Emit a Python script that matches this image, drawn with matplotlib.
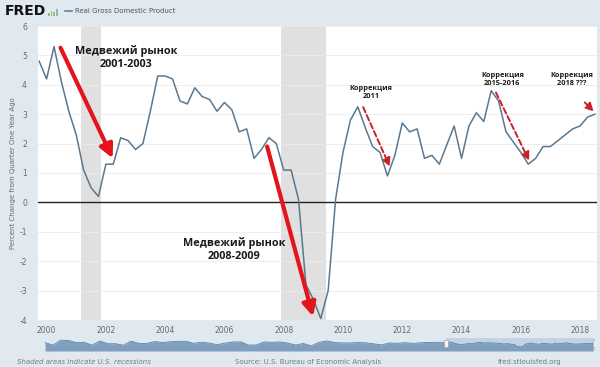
import matplotlib
matplotlib.use("Agg")
import matplotlib.pyplot as plt
from matplotlib.lines import Line2D
from matplotlib.patches import Rectangle
import numpy as np
import pandas as pd

# Real GDP, percent change from quarter one year ago, 1999Q4 .. 2018Q3
start_quarter = "1999Q4"
gdp_yoy = [
    4.8, 4.2, 5.3, 4.1, 3.1, 2.3, 1.1, 0.5, 0.2, 1.3,
    1.3, 2.2, 2.1, 1.8, 2.0, 3.1, 4.3, 4.3, 4.2, 3.45,
    3.35, 3.9, 3.6, 3.5, 3.1, 3.4, 3.15, 2.4, 2.5, 1.5,
    1.8, 2.2, 2.0, 1.1, 1.1, 0.1, -2.8, -3.3, -3.95, -3.0,
    0.1, 1.7, 2.8, 3.25, 2.55, 1.9, 1.7, 0.9, 1.6, 2.7,
    2.4, 2.5, 1.5, 1.6, 1.3, 1.95, 2.6, 1.5, 2.6, 3.05,
    2.75, 3.8, 3.45, 2.4, 2.05, 1.7, 1.3, 1.5, 1.9, 1.9,
    2.1, 2.3, 2.5, 2.6, 2.9, 3.0,
]

# NBER recessions (decimal years)
recession_start = [2001.17, 2007.92]
recession_end = [2001.83, 2009.42]

# long history for the navigator strip (annual, 1948-1999)
nav_years = list(range(1948, 2000))
nav_values = [
    4.1, -0.6, 8.7, 8.0, 4.1, 4.7, -0.6, 7.1, 2.1, 2.1,
    -0.7, 6.9, 2.6, 2.6, 6.1, 4.4, 5.8, 6.5, 6.6, 2.7,
    4.9, 3.1, 0.2, 3.3, 5.3, 5.6, -0.5, -0.2, 5.4, 4.6,
    5.5, 3.2, -0.3, 2.5, -1.8, 4.6, 7.2, 4.2, 3.5, 3.5,
    4.2, 3.7, 1.9, -0.1, 3.5, 2.8, 4.0, 2.7, 3.8, 4.4,
    4.5, 4.8,
]

yticks = list(range(-4, 7))
xtick_years = list(range(2000, 2019, 2))

bg = "#e1e9f0"
line_col = "#5a7890"
text_col = "#5f6b75"

plt.rcParams["axes.unicode_minus"] = False

quarters = pd.period_range(start_quarter, periods=len(gdp_yoy), freq="Q")
x = np.array([q.year + (q.quarter - 1) / 4 for q in quarters])
y = np.array(gdp_yoy)

fig = plt.figure(figsize=(6, 3.67), dpi=100, facecolor=bg)
ax = fig.add_axes([38 / 600, 1 - 320 / 367, 559 / 600, 294 / 367])
ax.set_facecolor("white")

for s, e in zip(recession_start, recession_end):
    ax.axvspan(s, e, color="#e0e0e0", lw=0, zorder=0)
for t in yticks:
    ax.axhline(t, color="#ebebeb", lw=0.6, zorder=0.5)
ax.axhline(0, color="#222222", lw=1.0, zorder=1)
ax.plot(x, y, color=line_col, lw=1.1, zorder=3)

ax.set_xlim(1999.71, 2018.57)
ax.set_ylim(-4, 6)
ax.set_yticks(yticks)
ax.set_xticks(xtick_years)
ax.set_xticklabels([str(v) for v in xtick_years])
ax.tick_params(length=0, labelsize=5.5, labelcolor=text_col)
ax.tick_params(axis="y", pad=8)
ax.tick_params(axis="x", pad=4)
for sp in ax.spines.values():
    sp.set_visible(False)

fig.text(0.021, 1 - 173 / 367, "Percent Change from Quarter One Year Ago", rotation=90,
         ha="center", va="center", fontsize=5, color=text_col)

# annotations
big_font = dict(family=["Open Sans", "DejaVu Sans"], fontweight="bold", color="#1a1a1a")
ax.text(2002.68, 4.92, "Медвежий рынок\n2001-2003", ha="center", va="center",
        fontsize=7.8, linespacing=1.3, zorder=6, **big_font)
ax.text(2006.34, -1.6, "Медвежий рынок\n2008-2009", ha="center", va="center",
        fontsize=7.8, linespacing=1.3, zorder=6, **big_font)
for xt, yt, label in [(2010.94, 3.75, "Коррекция\n2011"),
                      (2015.38, 4.17, "Коррекция\n2015-2016"),
                      (2017.72, 4.17, "Коррекция\n2018 ???")]:
    ax.text(xt, yt, label, ha="center", va="center", fontsize=5.3,
            linespacing=1.15, zorder=6, **big_font)

red = "#e3141b"
for (x0, y0), (x1, y1) in [((2000.47, 5.26), (2002.23, 1.50)),
                           ((2007.44, 1.90), (2008.99, -3.88))]:
    ax.annotate("", xy=(x1, y1), xytext=(x0, y0), zorder=7,
                arrowprops=dict(arrowstyle="-|>,head_length=0.8,head_width=0.4",
                                color=red, lw=3, mutation_scale=10,
                                shrinkA=0, shrinkB=0))

dred = "#c8222a"
for (x0, y0), (x1, y1) in [((2010.68, 3.24), (2011.58, 1.22)),
                           ((2015.16, 3.74), (2016.28, 1.42)),
                           ((2018.16, 3.40), (2018.46, 3.09))]:
    ax.annotate("", xy=(x1, y1), xytext=(x0, y0), zorder=7,
                arrowprops=dict(arrowstyle="-|>,head_length=0.6,head_width=0.3",
                                color=dred, lw=1.4, ls=(0, (3, 1.5)),
                                mutation_scale=8, shrinkA=0, shrinkB=0))

# navigator strip
nav = fig.add_axes([38 / 600, 1 - 351 / 367, 557 / 600, 13 / 367])
nx = np.concatenate([np.array(nav_years, dtype=float) + 0.5, x])
ny = np.concatenate([np.array(nav_values), y])
nav.set_facecolor("#d9e3ec")
nav.axvspan(x[0], 2018.75, color="#c3d3e3", lw=0)
nav.fill_between(nx, -11.5, ny, color="#7f9fbe", lw=0)
nav.plot(nx, ny, color="#5f82a6", lw=0.6)
nav.set_xlim(1947.6, 2018.75)
nav.set_ylim(-11.5, 12.7)
nav.axis("off")
for hx in (x[0], 2018.7):
    nav.add_patch(Rectangle((hx - 0.25, -4), 0.5, 13, facecolor="#f4f4f4",
                            edgecolor="#999999", lw=0.4, zorder=5))

# header: logo and legend
fig.text(5 / 600, 1 - 11 / 367, "FRED", fontsize=10, fontweight="bold",
         color="#111111", va="center", ha="left")
for i, h in enumerate([3, 5, 4, 7]):
    fig.add_artist(Rectangle(((48 + i * 2.6) / 600, 1 - 16 / 367), 1.8 / 600, h / 367,
                             facecolor="#8cc08c", edgecolor="none"))
fig.add_artist(Line2D([65 / 600, 72 / 600], [1 - 11 / 367, 1 - 11 / 367],
                      color=line_col, lw=1.1))
fig.text(75 / 600, 1 - 11 / 367, "Real Gross Domestic Product", fontsize=5,
         color="#555555", va="center", ha="left")

# footer
fig.text(17 / 600, 1 - 362 / 367, "Shaded areas indicate U.S. recessions", fontsize=5,
         style="italic", color="#6a7c8c", va="center", ha="left")
fig.text(308 / 600, 1 - 362 / 367, "Source: U.S. Bureau of Economic Analysis", fontsize=5,
         color="#6a7c8c", va="center", ha="center")
fig.text(530 / 600, 1 - 362 / 367, "fred.stlouisfed.org", fontsize=5,
         color="#6a7c8c", va="center", ha="center")

fig.savefig("out.png", dpi=100, facecolor=bg)
